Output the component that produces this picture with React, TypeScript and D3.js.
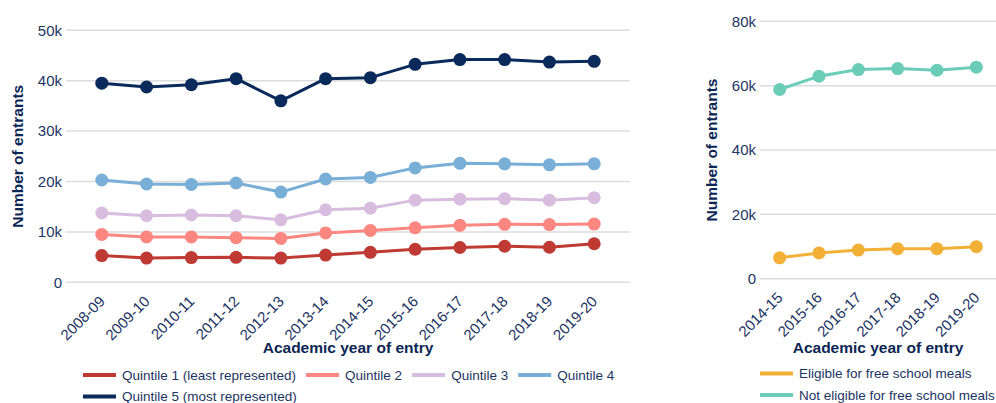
import { useEffect, useRef } from 'react';
import * as d3 from 'd3';

// academic years, polar quintile chart
const years = ['2008-09', '2009-10', '2010-11', '2011-12', '2012-13', '2013-14', '2014-15', '2015-16', '2016-17', '2017-18', '2018-19', '2019-20'];
const quintile1 = [5300, 4800, 4900, 4950, 4800, 5400, 5950, 6550, 6900, 7150, 6950, 7650];
const quintile2 = [9500, 9000, 9000, 8850, 8700, 9800, 10300, 10800, 11300, 11500, 11450, 11550];
const quintile3 = [13750, 13200, 13350, 13200, 12400, 14400, 14700, 16300, 16500, 16600, 16300, 16800];
const quintile4 = [20300, 19500, 19400, 19700, 17900, 20500, 20800, 22700, 23600, 23500, 23300, 23500];
const quintile5 = [39500, 38750, 39200, 40400, 36000, 40400, 40600, 43250, 44200, 44200, 43700, 43850];
const leftTicks = [0, 10000, 20000, 30000, 40000, 50000];

// free school meals chart
const fsmYears = ['2014-15', '2015-16', '2016-17', '2017-18', '2018-19', '2019-20'];
const eligible = [6500, 8000, 8900, 9300, 9300, 9950];
const notEligible = [58800, 62950, 65000, 65300, 64800, 65750];
const rightTicks = [0, 20000, 40000, 60000, 80000];

const FONT = '"Liberation Sans", Arial, sans-serif';
const TEXT = '#1c3463';
const TITLE = '#0b2653';

interface Series {
  name: string;
  color: string;
  values: number[];
}

const quintileSeries: Series[] = [
  { name: 'Quintile 1 (least represented)', color: '#bf3a32', values: quintile1 },
  { name: 'Quintile 2', color: '#fc8680', values: quintile2 },
  { name: 'Quintile 3', color: '#d9bde0', values: quintile3 },
  { name: 'Quintile 4', color: '#79aed6', values: quintile4 },
  { name: 'Quintile 5 (most represented)', color: '#0a2a5c', values: quintile5 },
];

const fsmSeries: Series[] = [
  { name: 'Eligible for free school meals', color: '#f2b136', values: eligible },
  { name: 'Not eligible for free school meals', color: '#6bccb8', values: notEligible },
];

interface PanelOpts {
  categories: string[];
  series: Series[];
  ticks: number[];
  xRange: [number, number];
  xPadding: number;
  yRange: [number, number];
  yTitleX: number;
  legendX: number;
  legendMaxX: number;
  legendRows: number[];
}

function drawPanel(svg: d3.Selection<SVGSVGElement, unknown, null, undefined>, o: PanelOpts) {
  const g = svg.append('g');
  const x = d3.scalePoint<string>().domain(o.categories).range(o.xRange).padding(o.xPadding);
  const y = d3.scaleLinear().domain([0, d3.max(o.ticks) as number]).range(o.yRange);
  const fmt = (d: number) => (d === 0 ? '0' : `${d / 1000}k`);

  // grid + y tick labels
  o.ticks.forEach(t => {
    g.append('line')
      .attr('x1', o.xRange[0]).attr('x2', o.xRange[1])
      .attr('y1', y(t)).attr('y2', y(t))
      .attr('stroke', '#dcdcdc').attr('stroke-width', 1.5);
    g.append('text')
      .attr('x', o.xRange[0] - 4).attr('y', y(t))
      .attr('dy', '0.35em')
      .attr('text-anchor', 'end')
      .style('font-size', '15px').style('fill', TEXT)
      .text(fmt(t));
  });

  // x tick labels, rotated
  o.categories.forEach(c => {
    g.append('text')
      .attr('transform', `translate(${(x(c) || 0) + 4},${o.yRange[0] + 20}) rotate(-45)`)
      .attr('text-anchor', 'end')
      .style('font-size', '15px').style('fill', TEXT)
      .text(c);
  });

  // axis titles
  g.append('text')
    .attr('transform', `translate(${o.yTitleX},${(o.yRange[0] + o.yRange[1]) / 2}) rotate(-90)`)
    .attr('text-anchor', 'middle').attr('dy', '0.35em')
    .style('font-size', '15.5px').style('font-weight', 'bold').style('fill', TITLE)
    .text('Number of entrants');
  g.append('text')
    .attr('x', (o.xRange[0] + o.xRange[1]) / 2).attr('y', 353)
    .attr('text-anchor', 'middle')
    .style('font-size', '15.5px').style('font-weight', 'bold').style('fill', TITLE)
    .text('Academic year of entry');

  // lines and markers
  const line = d3.line<number>()
    .x((_, i) => x(o.categories[i]) || 0)
    .y(d => y(d));
  o.series.forEach(s => {
    g.append('path')
      .attr('d', line(s.values))
      .attr('fill', 'none')
      .attr('stroke', s.color)
      .attr('stroke-width', 3)
      .attr('stroke-linejoin', 'round');
    g.selectAll(null)
      .data(s.values)
      .enter().append('circle')
      .attr('cx', (_, i) => x(o.categories[i]) || 0)
      .attr('cy', d => y(d))
      .attr('r', 6.5)
      .attr('fill', s.color);
  });

  // legend, flowing into rows
  let lx = o.legendX;
  let row = 0;
  o.series.forEach(s => {
    const item = g.append('g');
    const label = item.append('text')
      .attr('x', 39).attr('dy', '0.35em')
      .style('font-size', '13.5px').style('fill', TEXT)
      .text(s.name);
    const w = 39 + (label.node() as SVGTextElement).getComputedTextLength();
    if (lx > o.legendX && lx + w > o.legendMaxX) {
      lx = o.legendX;
      row += 1;
    }
    item.attr('transform', `translate(${lx},${o.legendRows[row]})`);
    item.append('line')
      .attr('x1', 0).attr('x2', 33)
      .attr('stroke', s.color).attr('stroke-width', 4);
    lx += w + 10;
  });
}

export default function App() {
  const svgRef = useRef<SVGSVGElement>(null);

  useEffect(() => {
    if (!svgRef.current) return;
    document.body.style.margin = '0';
    const svg = d3.select(svgRef.current);
    svg.selectAll('*').remove();

    drawPanel(svg, {
      categories: years,
      series: quintileSeries,
      ticks: leftTicks,
      xRange: [66, 630],
      xPadding: 0.8,
      yRange: [282.3, 30.3],
      yTitleX: 18,
      legendX: 83,
      legendMaxX: 640,
      legendRows: [375, 396.5],
    });

    drawPanel(svg, {
      categories: fsmYears,
      series: fsmSeries,
      ticks: rightTicks,
      xRange: [760, 996],
      xPadding: 0.5,
      yRange: [278.7, 21.3],
      yTitleX: 712,
      legendX: 760,
      legendMaxX: 996,
      legendRows: [373.5, 395],
    });
  }, []);

  return (
    <svg ref={svgRef} width={996} height={403} style={{ display: 'block', fontFamily: FONT, background: '#fff' }}></svg>
  );
}
